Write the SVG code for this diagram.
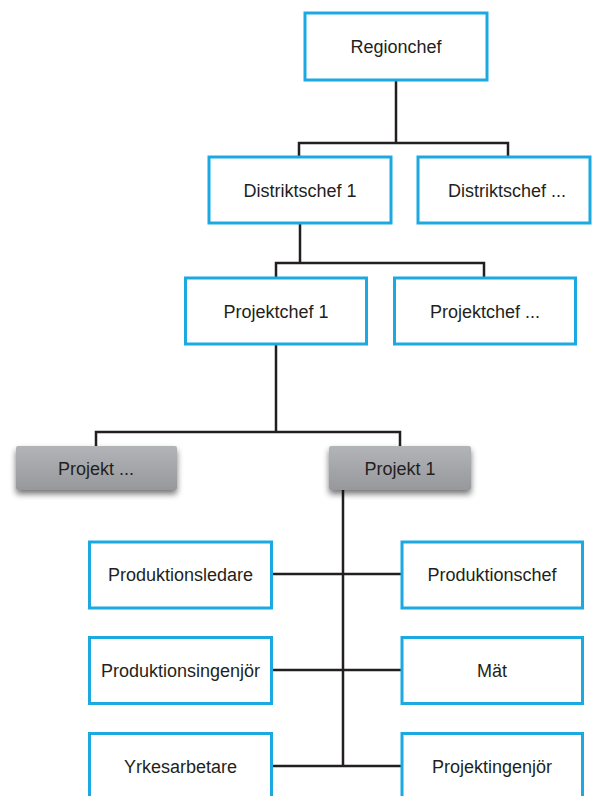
<svg xmlns="http://www.w3.org/2000/svg" width="593" height="796" viewBox="0 0 593 796">
<style>
.box{fill:#ffffff;stroke:#1aa9e1;stroke-width:3}
.gbox{fill:url(#gray);filter:url(#shadow)}
.lbl{font-family:"Liberation Sans",Arial,sans-serif;font-size:18px;fill:#231f20;text-anchor:middle}
.ln{fill:none;stroke:#231f20;stroke-width:2.5}
</style>
<defs>
<linearGradient id="gray" x1="0" y1="0" x2="0" y2="1">
<stop offset="0" stop-color="#b3b4b7"/>
<stop offset="1" stop-color="#97989b"/>
</linearGradient>
<filter id="shadow" x="-20%" y="-20%" width="140%" height="170%">
<feGaussianBlur in="SourceAlpha" stdDeviation="3"/>
<feOffset dx="0" dy="4" result="b"/>
<feComponentTransfer><feFuncA type="linear" slope="0.55"/></feComponentTransfer>
<feMerge><feMergeNode/><feMergeNode in="SourceGraphic"/></feMerge>
</filter>
</defs>
<g id="connectors">
<path class="ln" d="M396 80V143M299 157V143H508V157"/>
<path class="ln" d="M300 223V263M276 278V263H484V278"/>
<path class="ln" d="M276 344V432M96 446V432H400V446"/>
<path class="ln" d="M343 490V766"/>
<path class="ln" d="M272 574H402M272 670H402M272 766H402"/>
</g>
<g id="regionchef"><rect class="box" x="305" y="13" width="182" height="67"/><text class="lbl" x="396" y="53">Regionchef</text></g>
<g id="distriktschef1"><rect class="box" x="209" y="157" width="182" height="66"/><text class="lbl" x="300" y="196.5">Distriktschef 1</text></g>
<g id="distriktschefN"><rect class="box" x="418" y="157" width="172" height="66"/><text class="lbl" x="507" y="196.5">Distriktschef ...</text></g>
<g id="projektchef1"><rect class="box" x="185.5" y="278" width="181" height="66"/><text class="lbl" x="276" y="317.5">Projektchef 1</text></g>
<g id="projektchefN"><rect class="box" x="394.5" y="278" width="181" height="66"/><text class="lbl" x="485" y="317.5">Projektchef ...</text></g>
<g id="projektN"><rect class="gbox" x="16" y="446" width="161" height="44" rx="2"/><text class="lbl" x="96" y="474.5">Projekt ...</text></g>
<g id="projekt1"><rect class="gbox" x="329" y="446" width="142" height="44" rx="2"/><text class="lbl" x="400" y="474.5">Projekt 1</text></g>
<g id="produktionsledare"><rect class="box" x="89.5" y="542" width="182" height="66"/><text class="lbl" x="180.5" y="581">Produktionsledare</text></g>
<g id="produktionschef"><rect class="box" x="402" y="542" width="180.5" height="66"/><text class="lbl" x="492" y="581">Produktionschef</text></g>
<g id="produktionsingenjor"><rect class="box" x="89.5" y="637.5" width="182" height="66"/><text class="lbl" x="180.5" y="677">Produktionsingenjör</text></g>
<g id="mat"><rect class="box" x="402" y="637.5" width="180.5" height="66"/><text class="lbl" x="492" y="677">Mät</text></g>
<g id="yrkesarbetare"><rect class="box" x="89.5" y="733.5" width="182" height="70"/><text class="lbl" x="180.5" y="773">Yrkesarbetare</text></g>
<g id="projektingenjor"><rect class="box" x="402" y="733.5" width="180.5" height="70"/><text class="lbl" x="492" y="773">Projektingenjör</text></g>
</svg>
